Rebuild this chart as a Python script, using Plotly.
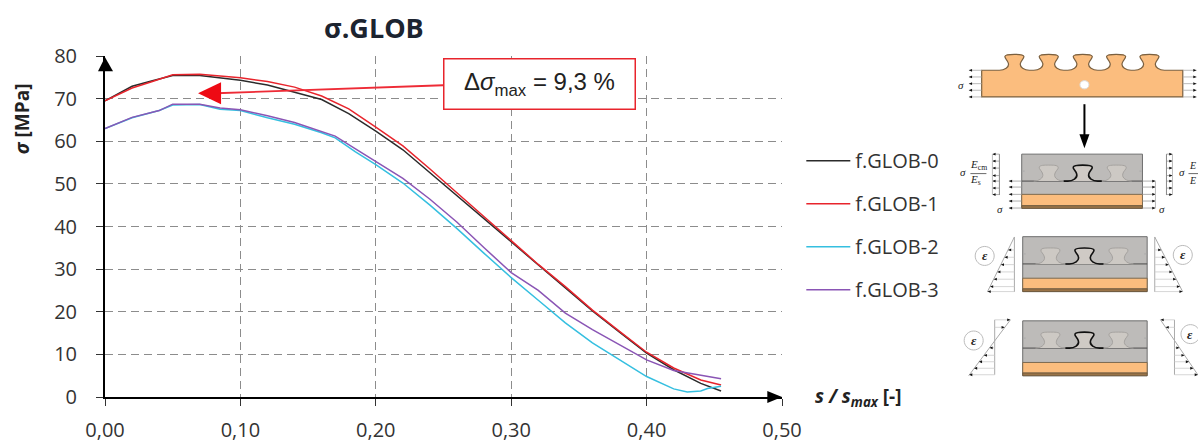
import re
import plotly.graph_objects as go

# ---------- data ----------
x_black = [0, .02, .035, .05, .07, .085, .10, .12, .14, .16, .18, .20, .22, .24, .26, .28, .30, .32, .34, .36, .38, .40, .42, .44, .455]
y_black = [69.5, 72.9, 74.2, 75.4, 75.4, 74.9, 74.3, 73.2, 71.5, 69.8, 66.5, 62.4, 58.0, 52.6, 47.2, 41.8, 36.3, 31.0, 25.7, 20.2, 15.2, 10.3, 6.4, 3.2, 1.4]
x_red = [0, .02, .035, .05, .07, .085, .10, .12, .14, .16, .18, .20, .22, .24, .26, .28, .30, .32, .34, .36, .38, .40, .42, .44, .455]
y_red = [69.5, 72.5, 74.0, 75.6, 75.7, 75.3, 74.9, 74.0, 72.7, 70.6, 67.6, 63.3, 58.9, 53.5, 48.0, 42.3, 36.7, 31.1, 25.9, 20.4, 15.4, 10.5, 6.8, 4.0, 2.8]
x_blue = [0, .02, .04, .05, .07, .085, .10, .12, .14, .16, .17, .185, .20, .22, .24, .26, .28, .30, .32, .34, .36, .38, .40, .42, .43, .44, .445, .455]
y_blue = [63.0, 65.5, 67.2, 68.5, 68.6, 67.5, 67.2, 65.5, 64.0, 62.0, 60.8, 57.5, 54.5, 50.2, 45.0, 39.5, 33.7, 28.0, 22.7, 17.4, 12.7, 8.7, 4.8, 1.9, 1.2, 1.4, 2.0, 2.5]
x_purple = [0, .02, .04, .05, .07, .085, .10, .12, .14, .16, .17, .185, .20, .22, .24, .26, .28, .30, .32, .34, .36, .38, .40, .42, .44, .455]
y_purple = [63.0, 65.6, 67.2, 68.7, 68.7, 67.8, 67.4, 66.0, 64.4, 62.3, 61.2, 58.2, 55.2, 51.3, 46.4, 41.0, 35.0, 29.2, 25.0, 19.7, 15.8, 12.2, 8.7, 6.2, 5.2, 4.3]
series_names = ["f.GLOB-0", "f.GLOB-1", "f.GLOB-2", "f.GLOB-3"]
series_colors = ["#2b2b2b", "#e8242c", "#35bfe0", "#8a55b5"]
x_ticks = [0, .1, .2, .3, .4, .5]
y_ticks = [0, 10, 20, 30, 40, 50, 60, 70, 80]

W, H = 1198, 443
L, R, T, B = 105.0, 781.7, 55.7, 397.3
FONT = "Open Sans"


def fx(p): return (p - L) / (R - L)
def fy(p): return (B - p) / (B - T)


def svg(path):
    """Turn a path written in page pixels into paper coordinates."""
    toks = re.findall(r"[MLCZ]|-?\d+\.?\d*", path)
    out, i = [], 0
    for t in toks:
        if t in "MLCZ":
            out.append(t)
        else:
            out.append(f"{fx(float(t)):.5f}" if i % 2 == 0 else f"{fy(float(t)):.5f}")
            i += 1
    return " ".join(out)


shapes, notes = [], []


def path(d, fill=None, line=None, w=1.0):
    s = dict(type="path", xref="paper", yref="paper", path=svg(d), layer="above")
    s["fillcolor"] = fill if fill else "rgba(0,0,0,0)"
    s["line"] = dict(color=line, width=w) if line else dict(width=0)
    shapes.append(s)


def seg(x0, y0, x1, y1, c="#000", w=1.0):
    path(f"M {x0} {y0} L {x1} {y1}", None, c, w)


def box(x0, y0, x1, y1, fill, line=None, w=1.0):
    path(f"M {x0} {y0} L {x1} {y0} L {x1} {y1} L {x0} {y1} Z", fill, line, w)


def tip(x, y, d, s=2.0):
    """small arrow head pointing left (d=-1) or right (d=1)"""
    path(f"M {x} {y} L {x-d*s*1.6} {y-s*.7} L {x-d*s*1.6} {y+s*.7} Z", "#111")


def text(px, py, t, size=11, color="#222", family="Liberation Serif", angle=0, anchor="center"):
    notes.append(dict(xref="paper", yref="paper", x=fx(px), y=fy(py), text=t, showarrow=False,
                      xanchor=anchor, yanchor="middle", textangle=angle,
                      font=dict(size=size, color=color, family=family)))


def bump_cmds(cx, by):
    return (f"C {cx-10} {by} {cx-5} {by-3} {cx-6} {by-7} C {cx-6.5} {by-10} {cx-10} {by-12} {cx-9.5} {by-14} "
            f"C {cx-9} {by-16} {cx-4} {by-16} {cx} {by-16} C {cx+4} {by-16} {cx+9} {by-16} {cx+9.5} {by-14} "
            f"C {cx+10} {by-12} {cx+6.5} {by-10} {cx+6} {by-7} C {cx+5} {by-3} {cx+10} {by} {cx+15} {by} ")


ORANGE, GREY, BROWN = "#fbbd7e", "#bdbbb9", "#9a7448"

# ---------- chart furniture ----------
path(f"M {L} 57 L 113 71 L 98 71 Z", "#000")
path(f"M {R} {B} L 767 {B-6} L 767 {B+6} Z", "#000")
seg(443, 85, 216, 93, "#ee2b36", 1.8)
path("M 198 93 L 221 82 L 221 104 Z", "#ee0a14")

# ---------- schematic: top comb ----------
d = "M 981.3 96.7 L 981.3 70 L 1000 70 "
for cz in (222, 325, 427, 527, 627):
    cx = 940 + cz / 3
    d += f"L {cx-15} 70 " + bump_cmds(cx, 70)
d += "L 1182.3 70 L 1182.3 96.7 Z"
path(d, ORANGE, "#7a6040", 1.2)
path("M 1079.5 84.5 C 1079.5 79 1088.5 79 1088.5 84.5 C 1088.5 90 1079.5 90 1079.5 84.5 Z", "#fff", "#ddd", 1)
for y in (70, 76.7, 83.4, 90, 96.7):
    seg(968.5, y, 981.3, y, "#aaa", .8)
    seg(1182.3, y, 1196, y, "#aaa", .8)
    tip(968.5, y, -1)
    tip(1196, y, 1)
text(961, 84.5, "<i>σ</i>", 11)
seg(1084, 104, 1084, 138, "#000", 2)
path("M 1084 148 L 1079 134 L 1089 134 Z", "#000")


def block(x0, x1, top, mid, o0, o1, bot, cx):
    box(x0, top, x1, bot, GREY, "#6e6e6e", 1)
    box(x0, o0, x1, o1, ORANGE, "#7c6a50", 1)
    box(x0, o1, x1, bot, BROWN, "#6b5638", .8)
    seg(x0, mid, x1, mid, "#4a4a4a", 1)
    for g in (cx - 34, cx + 34):
        path(f"M {g-15} {mid} " + bump_cmds(g, mid), "#cdc9c4", "#a5a29f", 1)
    path(f"M {cx-19} {mid} L {cx-15} {mid} " + bump_cmds(cx, mid) + f"L {cx+19} {mid}", "#cfcac5", "#111", 1.6)
    seg(x0 + 1, mid - 10, x0 + 3, mid - 10, "#aaa", 1)
    seg(x1 - 3, mid - 10, x1 - 1, mid - 10, "#aaa", 1)


def circle_eps(cx, cy):
    r = 9.5
    k = r * .55
    path(f"M {cx-r} {cy} C {cx-r} {cy-k} {cx-k} {cy-r} {cx} {cy-r} C {cx+k} {cy-r} {cx+r} {cy-k} {cx+r} {cy} "
         f"C {cx+r} {cy+k} {cx+k} {cy+r} {cx} {cy+r} C {cx-k} {cy+r} {cx-r} {cy+k} {cx-r} {cy} Z", "#fff", "#bbb", 1)
    text(cx, cy, "<b><i>ε</i></b>", 13)


# ---------- schematic: block 1 ----------
block(1021.3, 1142, 154, 181, 194.3, 205.7, 208.3, 1082.3)
for y in (154, 161, 168, 175.5, 181, 188, 194.5):
    seg(992, y, 999, y, "#999", .8)
    tip(992, y, -1)
    seg(1166, y, 1172, y, "#999", .8)
    tip(1172, y, 1)
seg(992, 154, 992, 195, "#bbb", 1)
seg(999, 154, 999, 195, "#888", 1)
seg(1166, 154, 1166, 195, "#888", 1)
seg(1172, 154, 1172, 195, "#bbb", 1)
for y in (181, 187, 194.3, 201, 208):
    seg(1008.5, y, 1021.3, y, "#999", .8)
    tip(1008.5, y, -1)
    seg(1142, y, 1155, y, "#999", .8)
    tip(1155, y, 1)
seg(1155, 181, 1155, 208, "#bbb", 1)
text(962.5, 172, "<i>σ</i>", 11)
text(978, 165, "<i>E</i><sub>cm</sub>", 11)
seg(970, 173.5, 986, 173.5, "#444", .8)
text(975.5, 180, "<i>E</i><sub>s</sub>", 11)
text(1182, 172, "<i>σ</i>", 11)
text(1198, 165, "<i>E</i>", 10, anchor="right")
seg(1188, 173.5, 1198, 173.5, "#444", .8)
text(1198, 180, "<i>E</i>", 10, anchor="right")
text(1000, 209, "<i>σ</i>", 11)
text(1162, 209, "<i>σ</i>", 11)

# ---------- schematic: block 2 with strain wedge ----------
block(1022.3, 1146.7, 236.7, 264, 278.3, 289, 291.7, 1084)
seg(1014, 237, 1014, 292, "#aaa", 1)
seg(1014, 237, 987, 292, "#aaa", 1)
seg(1154.3, 237, 1154.3, 292, "#aaa", 1)
seg(1154.3, 237, 1182.3, 292, "#aaa", 1)
for i, y in enumerate((250, 257.3, 264.7, 272, 279.3, 286.7, 291.7)):
    xl = 1014 - (y - 237) * 27 / 55
    xr = 1154.3 + (y - 237) * 28 / 55
    seg(xl, y, 1014, y, "#ccc", .8)
    seg(1154.3, y, xr, y, "#ccc", .8)
    tip(xl, y, -1)
    tip(xr, y, 1)
circle_eps(984.3, 256)
circle_eps(1182.3, 255)

# ---------- schematic: block 3 with reversed wedge ----------
block(1022.3, 1146.7, 321, 348.3, 362.7, 373.3, 376, 1084)
seg(994.3, 320, 994.3, 375, "#aaa", 1)
seg(1010, 320, 968.3, 376, "#aaa", 1)
seg(1174, 320, 1174, 375, "#aaa", 1)
seg(1160, 320, 1198, 376, "#aaa", 1)
for y in (320, 327.5):
    seg(994.3, y, 1010 - (y - 320) * .75, y, "#ccc", .8)
    tip(1010 - (y - 320) * .75, y, 1)
    seg(1160 + (y - 320) * .68, y, 1174, y, "#ccc", .8)
    tip(1160 + (y - 320) * .68, y, -1)
for y in (348, 355.5, 362, 368.5, 375):
    xl = 1010 - (y - 320) * .75
    xr = 1160 + (y - 320) * .68
    seg(xl, y, 994.3, y, "#ccc", .8)
    seg(1174, y, xr, y, "#ccc", .8)
    tip(xl, y, -1)
    tip(xr, y, 1)
circle_eps(973.3, 340.7)
circle_eps(1190, 334.3)

# ---------- main texts ----------
text(374, 27, "<b>σ.GLOB</b>", 27, "#1c2430", FONT)
text(22, 118, "<b><i>σ</i> [MPa]</b>", 19, "#222", FONT, angle=-90)
text(858, 397, "<b><i>s / s<sub>max</sub></i> [-]</b>", 19, "#222", FONT)
notes.append(dict(xref="paper", yref="paper", x=fx(539.5), y=fy(83.5), showarrow=False,
                  xanchor="center", yanchor="middle",
                  text="Δ<i>σ</i><sub>max</sub> = 9,3 %", width=190, height=49, align="center", valign="middle",
                  bordercolor="#e8242c", borderwidth=1.5, bgcolor="#fff", borderpad=0,
                  font=dict(size=24, color="#222", family="Liberation Sans")))

fig = go.Figure()
for xs, ys, n, c in zip((x_black, x_red, x_blue, x_purple), (y_black, y_red, y_blue, y_purple),
                        series_names, series_colors):
    fig.add_trace(go.Scatter(x=xs, y=ys, mode="lines", name=n, legendgroup=n,
                             line=dict(color=c, width=1.5), hoverinfo="skip"))

axis_common = dict(showgrid=True, gridcolor="#8c8c8c", griddash="8px,5px", gridwidth=1.4, zeroline=False,
                   showline=True, linecolor="#000", linewidth=2, ticks="outside", ticklen=7, tickcolor="#333",
                   tickwidth=1, automargin=False, tickfont=dict(family=FONT, size=20, color="#333"))
fig.update_layout(
    width=W, height=H, autosize=False, paper_bgcolor="#fff", plot_bgcolor="#fff",
    margin=dict(l=L, r=W - R, t=T, b=H - B, pad=0),
    separators=", ",
    xaxis=dict(range=[0, .5], tickvals=x_ticks, tickformat=".2f", ticklabelstandoff=7, **axis_common),
    yaxis=dict(range=[0, 80], tickvals=y_ticks, ticklabelstandoff=15, **axis_common),
    legend=dict(x=fx(801), y=fy(141), xanchor="left", yanchor="top", bgcolor="rgba(0,0,0,0)",
                itemwidth=44, tracegroupgap=14, font=dict(family=FONT, size=20, color="#333"), itemclick=False),
    shapes=shapes, annotations=notes,
)
fig.write_html("out.html", post_script="document.body.style.margin='0';", config=dict(displayModeBar=False))
